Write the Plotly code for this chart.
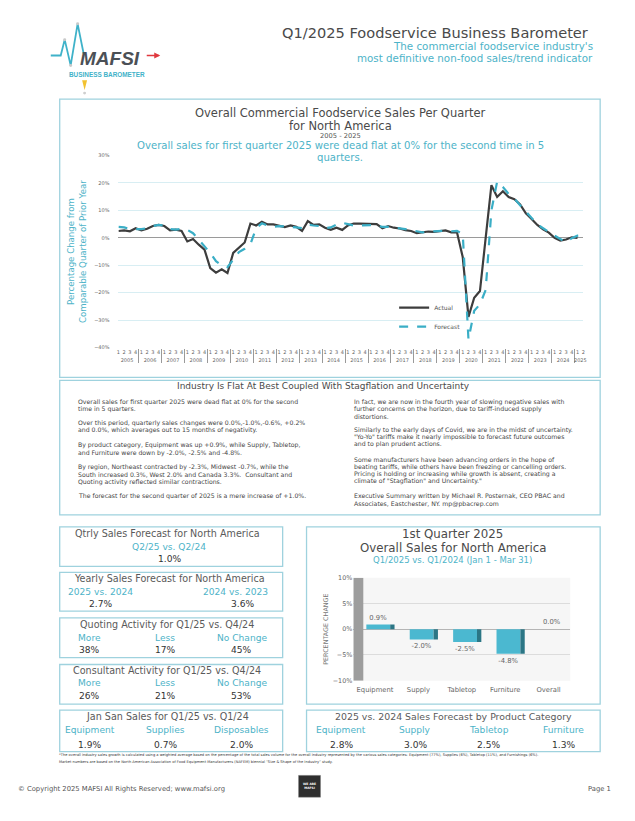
import plotly.graph_objects as go

W, H = 635, 821

# ---------------- data ----------------
years = ["2005", "2006", "2007", "2008", "2009", "2010", "2011", "2012", "2013", "2014",
         "2015", "2016", "2017", "2018", "2019", "2020", "2021", "2022", "2023", "2024", "2025"]
quarters = ["1", "2", "3", "4"]

actual = [
    2.5, 2.7, 2.4, 3.5,      # 2005
    2.7, 3.3, 4.3, 4.7,      # 2006
    4.3, 2.7, 3.0, 2.5,      # 2007
    -1.3, -0.4, -2.5, -4.3,  # 2008
    -11.0, -12.7, -11.5, -12.8,  # 2009
    -5.5, -3.5, -1.7, 5.2,   # 2010
    4.5, 5.9, 4.9, 4.9,      # 2011
    4.5, 3.9, 4.5, 4.0,      # 2012
    2.5, 6.1, 4.7, 4.9,      # 2013
    3.7, 2.9, 3.7, 2.9,      # 2014
    4.5, 5.2, 5.2, 5.2,      # 2015
    5.1, 5.0, 3.5, 4.3,      # 2016
    3.7, 3.4, 2.8, 2.5,      # 2017
    1.7, 1.9, 2.3, 2.2,      # 2018
    2.4, 2.7, 2.0, 2.0,      # 2019
    -7.0, -28.8, -21.8, -19.4,  # 2020
    0.0, 19.2, 14.9, 17.0,   # 2021
    14.9, 14.1, 12.2, 8.9,   # 2022
    6.9, 4.7, 3.1, 1.9,      # 2023
    0.0, -1.0, -0.6, 0.2,    # 2024
    0.0,                     # 2025
]

forecast = [
    4.0, 3.8, 3.2, 3.2,      # 2005
    3.2, 3.5, 4.3, 4.7,      # 2006
    4.5, 3.2, 3.0, 3.3,      # 2007
    2.9, 1.7, -0.8, -3.3,    # 2008
    -5.5, -8.5, -10.0, -10.7,  # 2009
    -8.0, -5.2, -4.0, -2.3,  # 2010
    3.5, 5.3, 4.5, 4.0,      # 2011
    4.3, 4.2, 4.0, 3.8,      # 2012
    3.5, 4.8, 4.5, 4.3,      # 2013
    3.5, 3.8, 4.8, 5.5,      # 2014
    5.0, 4.5, 4.5, 4.6,      # 2015
    4.6, 4.5, 4.0, 4.0,      # 2016
    3.8, 3.5, 3.2, 2.8,      # 2017
    2.3, 2.0, 2.3, 2.4,      # 2018
    2.4, 2.6, 2.4, 2.5,      # 2019
    1.5, -37.0, -26.6, -24.2,  # 2020
    -19.0, 10.0, 20.5, 18.5,   # 2021
    16.0, 14.3, 11.9, 9.5,   # 2022
    7.1, 4.9, 3.5, 2.0,      # 2023
    0.8, -0.4, -1.6, -0.1,   # 2024
    0.8, 1.0,                # 2025
]

bar_categories = ["Equipment", "Supply", "Tabletop", "Furniture", "Overall"]
bar_values = [0.9, -2.0, -2.5, -4.8, 0.0]

quoting_labels = ["More", "Less", "No Change"]
quoting_values = ["38%", "17%", "45%"]
consultant_values = ["26%", "21%", "53%"]
jansan_labels = ["Equipment", "Supplies", "Disposables"]
jansan_values = ["1.9%", "0.7%", "2.0%"]
category_labels = ["Equipment", "Supply", "Tabletop", "Furniture"]
category_values = ["2.8%", "3.0%", "2.5%", "1.3%"]

left_paras = [
    ["Overall sales for first quarter 2025 were dead flat at 0% for the second",
     "time in 5 quarters."],
    ["Over this period, quarterly sales changes were 0.0%,-1.0%,-0.6%, +0.2%",
     "and 0.0%, which averages out to 15 months of negativity."],
    ["By product category, Equipment was up +0.9%, while Supply, Tabletop,",
     "and Furniture were down by -2.0%, -2.5% and -4.8%."],
    ["By region, Northeast contracted by -2.3%, Midwest -0.7%, while the",
     "South increased 0.3%, West 2.0% and Canada 3.3%.  Consultant and",
     "Quoting activity reflected similar contractions."],
    ["The forecast for the second quarter of 2025 is a mere increase of +1.0%."],
]
right_paras = [
    ["In fact, we are now in the fourth year of slowing negative sales with",
     "further concerns on the horizon, due to tariff-induced supply",
     "distortions."],
    ["Similarly to the early days of Covid, we are in the midst of uncertainty.",
     "\"Yo-Yo\" tariffs make it nearly impossible to forecast future outcomes",
     "and to plan prudent actions."],
    ["Some manufacturers have been advancing orders in the hope of",
     "beating tariffs, while others have been freezing or cancelling orders.",
     "Pricing is holding or increasing while growth is absent, creating a",
     "climate of \"Stagflation\" and Uncertainty.\""],
    ["Executive Summary written by Michael R. Posternak, CEO PBAC and",
     "Associates, Eastchester, NY. mp@pbacrep.com"],
]

# ---------------- helpers ----------------
FONT = "DejaVu Sans"
CYAN = "#4db3c8"
BORDER = "#9fd2de"
DARK = "#4a4a4a"
GREY = "#5a5a5a"


def X(px):
    return px / W


def Y(py):
    return 1 - py / H


fig = go.Figure()


def txt(text, x, y, size, color=DARK, xanchor="center", yanchor="middle", align="center", family=FONT, **kw):
    fig.add_annotation(text=text, x=X(x), y=Y(y), xref="paper", yref="paper", showarrow=False,
                       font=dict(size=size, color=color, family=family), xanchor=xanchor,
                       yanchor=yanchor, align=align, borderpad=0, **kw)


def box(x0, y0, x1, y1):
    fig.add_shape(type="rect", xref="paper", yref="paper", x0=X(x0), x1=X(x1), y0=Y(y1), y1=Y(y0),
                  line=dict(color=BORDER, width=1.3), layer="below")


# ---------------- main line chart ----------------
cat_year = [y for y in years[:-1] for _ in quarters] + [years[-1]] * 2
cat_q = quarters * (len(years) - 1) + quarters[:2]

fig.add_trace(go.Scatter(x=[cat_year[:len(actual)], cat_q[:len(actual)]], y=actual, mode="lines",
                         name="Actual", line=dict(color="#3d3d3d", width=2.2),
                         xaxis="x", yaxis="y"))
fig.add_trace(go.Scatter(x=[cat_year, cat_q], y=forecast, mode="lines",
                         name="Forecast", line=dict(color="#3aaec6", width=2.2, dash="dash"),
                         xaxis="x", yaxis="y"))

# ---------------- bar chart ----------------
fig.add_trace(go.Bar(x=bar_categories, y=bar_values, width=0.55, offset=-0.2,
                     marker=dict(color="#4bb8d0", line=dict(width=0)),
                     texttemplate="%{y:.1f}%", textposition="outside",
                     textfont=dict(size=6.8, color="#666", family=FONT), cliponaxis=False,
                     showlegend=False, xaxis="x2", yaxis="y2"))
fig.add_trace(go.Bar(x=bar_categories, y=bar_values, width=0.1, offset=0.35,
                     marker=dict(color="#2b7685", line=dict(width=0)),
                     showlegend=False, xaxis="x2", yaxis="y2", hoverinfo="skip"))

fig.update_layout(
    width=W, height=H, margin=dict(l=0, r=0, t=0, b=0),
    paper_bgcolor="white", plot_bgcolor="white",
    font=dict(family=FONT, color=DARK),
    barmode="overlay",
    xaxis=dict(type="multicategory", domain=[X(119), X(586)], anchor="y",
               tickmode="linear", dtick=1, tick0=0, nticks=200,
               tickfont=dict(size=5.0, color="#666"), tickangle=0,
               showdividers=True, dividercolor="#9a9a9a", dividerwidth=0.7,
               showgrid=False, showline=False, zeroline=False),
    yaxis=dict(domain=[Y(347), Y(153)], range=[-40, 30], dtick=10, ticksuffix="%",
               tickfont=dict(size=5.0, color="#666"), ticklabelstandoff=8,
               gridcolor="#d8eef3", gridwidth=1, zeroline=True, zerolinecolor="#9a9a9a",
               zerolinewidth=1, anchor="x",
               title=dict(text="Percentage Change from<br>Comparable Quarter of Prior Year",
                          font=dict(size=8.6, color=CYAN), standoff=6)),
    xaxis2=dict(domain=[X(355), X(573)], anchor="y2", range=[-0.5, 4.5], ticklabelstandoff=4,
                tickfont=dict(size=6.8, color="#666"), showgrid=False, showline=False),
    yaxis2=dict(domain=[Y(683.3), Y(579.3)], range=[-10, 10], dtick=5, ticksuffix="%",
                tickfont=dict(size=6.4, color="#666"), anchor="x2",
                gridcolor="#dcdcdc", zeroline=True, zerolinecolor="#b5b5b5", zerolinewidth=1,
                title=dict(text="PERCENTAGE CHANGE", font=dict(size=6.4, color="#777"), standoff=3)),
    legend=dict(x=X(396), y=Y(292), xanchor="left", yanchor="top", bgcolor="rgba(0,0,0,0)",
                font=dict(size=6.0, color="#555"), itemwidth=30),
)

# bar chart background and side wall
fig.add_shape(type="rect", xref="x2 domain", yref="y2 domain", x0=0, x1=1, y0=0, y1=1,
              fillcolor="#f6f6f6", line=dict(width=0), layer="below")
fig.add_shape(type="rect", xref="x2", yref="y2", x0=-0.5, x1=-0.27, y0=-10, y1=10,
              fillcolor="#9d9d9d", line=dict(width=0), layer="above")

# ---------------- header ----------------
txt("Q1/2025 Foodservice Business Barometer", 592, 28.5, 14.6, "#4a4a4a", xanchor="right")
txt("The commercial foodservice industry's", 597, 42.5, 10.3, CYAN, xanchor="right")
txt("most definitive non-food sales/trend indicator", 597, 54.5, 10.3, CYAN, xanchor="right")

# logo (approximation)
pts = [(51, 52), (61, 52), (65, 36), (71, 62), (78, 20), (84, 50)]
path = "M " + " L ".join(f"{X(px):.5f},{Y(py):.5f}" for px, py in pts)
fig.add_shape(type="path", path=path, xref="paper", yref="paper",
              line=dict(color="#3fb2c9", width=1.8))
for px, py in pts[2:5]:
    fig.add_shape(type="circle", xref="paper", yref="paper", x0=X(px - 1.5), x1=X(px + 1.5),
                  y0=Y(py + 1.5), y1=Y(py - 1.5), fillcolor="#c9c9c9", line=dict(width=0))
fig.add_annotation(text="<b><i>MAFSI</i></b>", x=X(111), y=Y(55.5), xref="paper", yref="paper",
                   xanchor="center", yanchor="middle", showarrow=False,
                   font=dict(size=19, color="#4b5056", family="Liberation Sans"))
fig.add_annotation(x=X(161), y=Y(52), ax=-15, ay=0, xref="paper", yref="paper", text="",
                   showarrow=True, arrowhead=2, arrowsize=0.8, arrowwidth=1.5, arrowcolor="#e0383e")
txt("<b>BUSINESS BAROMETER</b>", 108, 71.5, 6.4, "#3fb2c9", family="Liberation Sans")
tri = [(82.5, 77), (87.5, 77), (85, 87)]
fig.add_shape(type="path", path="M " + " L ".join(f"{X(a):.5f},{Y(b):.5f}" for a, b in tri) + " Z",
              xref="paper", yref="paper", fillcolor="#f2c230", line=dict(width=0))
fig.add_shape(type="circle", xref="paper", yref="paper", x0=X(83.5), x1=X(86.5), y0=Y(91.5), y1=Y(88.5),
              fillcolor="#cfcfcf", line=dict(width=0))

# ---------------- main chart box and titles ----------------
box(60, 96, 603, 377)
txt("Overall Commercial Foodservice Sales Per Quarter", 342, 110.3, 11.5, "#4a4a4a")
txt("for North America", 342, 123, 11.5, "#4a4a4a")
txt("2005 - 2025", 342, 133.5, 6.7, "#555")
txt("Overall sales for first quarter 2025 were dead flat at 0% for the second time in 5", 342, 143.3, 10.1, CYAN)
txt("quarters.", 342, 155, 10.1, CYAN)

# ---------------- text box ----------------
box(60, 380, 603, 516)
txt("Industry Is Flat At Best Coupled With Stagflation and Uncertainty", 325, 386, 9.0, "#4a4a4a")

STEP = 7.3
for start, para in zip([401.7, 423.2, 445.7, 467.8, 497.3], left_paras):
    for k, line in enumerate(para):
        txt(line, 77, start + k * STEP, 6.2, "#444", xanchor="left")
for start, para in zip([401.7, 430.0, 460.0, 497.3], right_paras):
    for k, line in enumerate(para):
        txt(line, 355, start + k * STEP, 6.2, "#444", xanchor="left")

# ---------------- left info boxes ----------------
cols3 = [90, 166, 243]
box(60, 528, 284, 568)
txt("Qtrly Sales Forecast for North America", 168, 535, 9.6, GREY)
txt("Q2/25 vs. Q2/24", 170, 548, 9.1, CYAN)
txt("1.0%", 170, 560, 9.1, "#333")

box(60, 574, 284, 613)
txt("Yearly Sales Forecast for North America", 170, 580.5, 9.6, GREY)
txt("2025 vs. 2024", 101, 594, 9.1, CYAN)
txt("2024 vs. 2023", 237, 594, 9.1, CYAN)
txt("2.7%", 101, 606, 9.1, "#333")
txt("3.6%", 244, 606, 9.1, "#333")

box(60, 620, 284, 660)
txt("Quoting Activity for Q1/25 vs. Q4/24", 168, 627, 9.6, GREY)
for cx, lab, val in zip(cols3, quoting_labels, quoting_values):
    txt(lab, cx, 640, 9.1, CYAN)
    txt(val, cx, 652.5, 9.1, "#333")

box(60, 667, 284, 707)
txt("Consultant Activity for Q1/25 vs. Q4/24", 168, 673, 9.6, GREY)
for cx, lab, val in zip(cols3, quoting_labels, consultant_values):
    txt(lab, cx, 686, 9.1, CYAN)
    txt(val, cx, 699, 9.1, "#333")

box(60, 713, 284, 755)
txt("Jan San Sales for Q1/25 vs. Q1/24", 168, 719.5, 9.6, GREY)
for cx, lab, val in zip(cols3, jansan_labels, jansan_values):
    txt(lab, cx, 733.5, 9.1, CYAN)
    txt(val, cx, 748, 9.1, "#333")

# ---------------- right boxes ----------------
box(308, 528, 603, 707)
txt("1st Quarter 2025", 455, 535.6, 11.8, "#4a4a4a")
txt("Overall Sales for North America", 455, 549.5, 11.8, "#4a4a4a")
txt("Q1/2025 vs. Q1/2024 (Jan 1 - Mar 31)", 455, 561.5, 8.5, CYAN)

box(308, 713, 603, 755)
txt("2025 vs. 2024 Sales Forecast by Product Category", 455.5, 719.5, 9.4, GREY)
for cx, lab, val in zip([343, 417, 491, 566], category_labels, category_values):
    txt(lab, cx, 733.5, 9.1, CYAN)
    txt(val, cx, 748, 9.1, "#333")

# ---------------- footnote & footer ----------------
txt("*The overall industry sales growth is calculated using a weighted average based on the percentage of the total sales volume for the overall industry represented by the various sales categories: Equipment (77%), Supplies (6%), Tabletop (11%), and Furnishings (6%).",
    58, 758.5, 3.6, "#333", xanchor="left")
txt("Market numbers are based on the North American Association of Food Equipment Manufacturers (NAFEM) biennial \"Size & Shape of the Industry\" study.",
    58, 765, 3.6, "#333", xanchor="left")

txt("© Copyright 2025 MAFSI All Rights Reserved; www.mafsi.org", 17, 793, 6.8, "#555", xanchor="left")
txt("Page 1", 615, 793, 6.8, "#555", xanchor="right")
fig.add_shape(type="rect", xref="paper", yref="paper", x0=X(300), x1=X(322), y0=Y(801), y1=Y(779),
              fillcolor="#2e2e2e", line=dict(color="#777", width=0.5))
txt("<b>WE ARE</b><br><b>MAFSI</b>", 311, 790, 3.0, "white")

fig.write_html("out.html", config={"displayModeBar": False},
               post_script="document.body.style.margin='0';document.body.style.overflow='hidden';")
